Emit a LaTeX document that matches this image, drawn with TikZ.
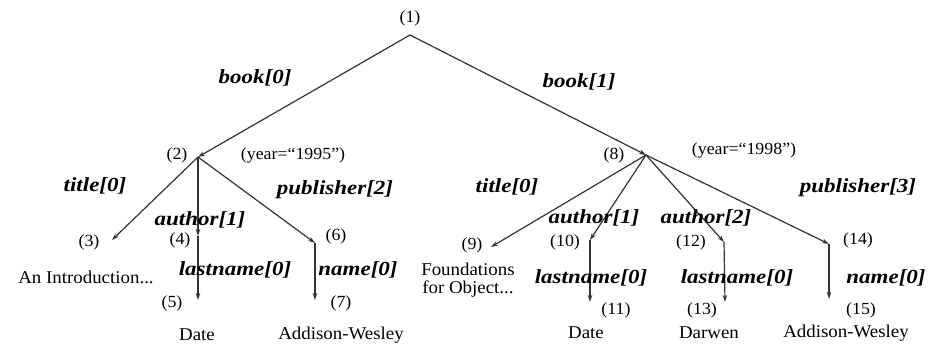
\documentclass[tikz,border=0pt]{standalone}
\usepackage{fontspec}
\setmainfont{Liberation Serif}[FakeStretch=1.05]
\newfontfamily\edgefont{Liberation Serif Bold Italic}[FakeStretch=1.15]
\usetikzlibrary{arrows.meta}
\tikzset{
  edge/.style={draw=black!80, line width=1.2pt, -{Stealth[length=7pt,width=4.5pt]}},
  num/.style={inner sep=0pt, font=\fontsize{17}{19}\selectfont},
  val/.style={inner sep=0pt, font=\fontsize{18}{21}\selectfont, align=center},
  tag/.style={inner sep=0pt, font=\edgefont\fontsize{20}{22}\selectfont},
}
\begin{document}
\begin{tikzpicture}[x=1pt, y=-1pt]
\fill[white] (0,0) rectangle (933,347);
\useasboundingbox (0,0) rectangle (933,347);

% tree vertices
\coordinate (p1)  at (410,35);
\coordinate (p2)  at (198,157);
\coordinate (p3)  at (112,240);
\coordinate (p4)  at (198,236);
\coordinate (p5)  at (198,300);
\coordinate (p6)  at (315,243);
\coordinate (p7)  at (315,300);
\coordinate (p8)  at (646,155);
\coordinate (p9)  at (491,247);
\coordinate (p10) at (590,240);
\coordinate (p11) at (590,302);
\coordinate (p12) at (724,242);
\coordinate (p13) at (725,302);
\coordinate (p14) at (829,244);
\coordinate (p15) at (829,299);

% edges
\draw[edge] (p1) -- (p2);
\draw[edge] (p1) -- (p8);
\draw[edge] (p2) -- (p3);
\draw[edge] (p2) -- (p4);
\draw[edge] (p2) -- (p6);
\draw[edge] (p4) -- (p5);
\draw[edge] (p6) -- (p7);
\draw[edge] (p8) -- (p9);
\draw[edge] (p8) -- (p10);
\draw[edge] (p8) -- (p12);
\draw[edge] (p8) -- (p14);
\draw[edge] (p10) -- (p11);
\draw[edge] (p12) -- (p13);
\draw[edge] (p14) -- (p15);

% vertex numbers
\node[num] (n1)  at (410,18)  {(1)};
\node[num] (n2)  at (177,155) {(2)};
\node[num] (n3)  at (89,242)  {(3)};
\node[num] (n4)  at (180,240) {(4)};
\node[num] (n5)  at (172,303) {(5)};
\node[num] (n6)  at (336,236) {(6)};
\node[num] (n7)  at (341,303) {(7)};
\node[num] (n8)  at (614,155) {(8)};
\node[num] (n9)  at (472,245) {(9)};
\node[num] (n10) at (565,242) {(10)};
\node[num] (n11) at (616,310) {(11)};
\node[num] (n12) at (691,242) {(12)};
\node[num] (n13) at (702,310) {(13)};
\node[num] (n14) at (858,240) {(14)};
\node[num] (n15) at (861,310) {(15)};

% attributes
\node[num] (y1) at (293,155) {(year=``1995'')};
\node[num] (y2) at (744,150) {(year=``1998'')};

% edge labels
\node[tag] (b0)  at (255,78)  {book[0]};
\node[tag] (b1)  at (579,82)  {book[1]};
\node[tag] (t0)  at (95,186)  {title[0]};
\node[tag] (a1)  at (200,220) {author[1]};
\node[tag] (pb2) at (335,190) {publisher[2]};
\node[tag] (l0)  at (235,270) {lastname[0]};
\node[tag] (nm0) at (358,270) {name[0]};
\node[tag] (t0r) at (507,187) {title[0]};
\node[tag] (a1r) at (594,218) {author[1]};
\node[tag] (a2r) at (706,218) {author[2]};
\node[tag] (pb3) at (858,188) {publisher[3]};
\node[tag] (l0r) at (591,278) {lastname[0]};
\node[tag] (l1r) at (737,278) {lastname[0]};
\node[tag] (nm1) at (886,278) {name[0]};

% leaf values
\node[val] (v3)  at (86,277)  {An Introduction...};
\node[val] (v5)  at (197,335) {Date};
\node[val] (v7)  at (341,335) {Addison-Wesley};
\node[val] (v9)  at (468,280) {Foundations\\[-3pt]for Object...};
\node[val] (v11) at (586,333) {Date};
\node[val] (v13) at (709,333) {Darwen};
\node[val] (v15) at (846,333) {Addison-Wesley};
\end{tikzpicture}
\end{document}
